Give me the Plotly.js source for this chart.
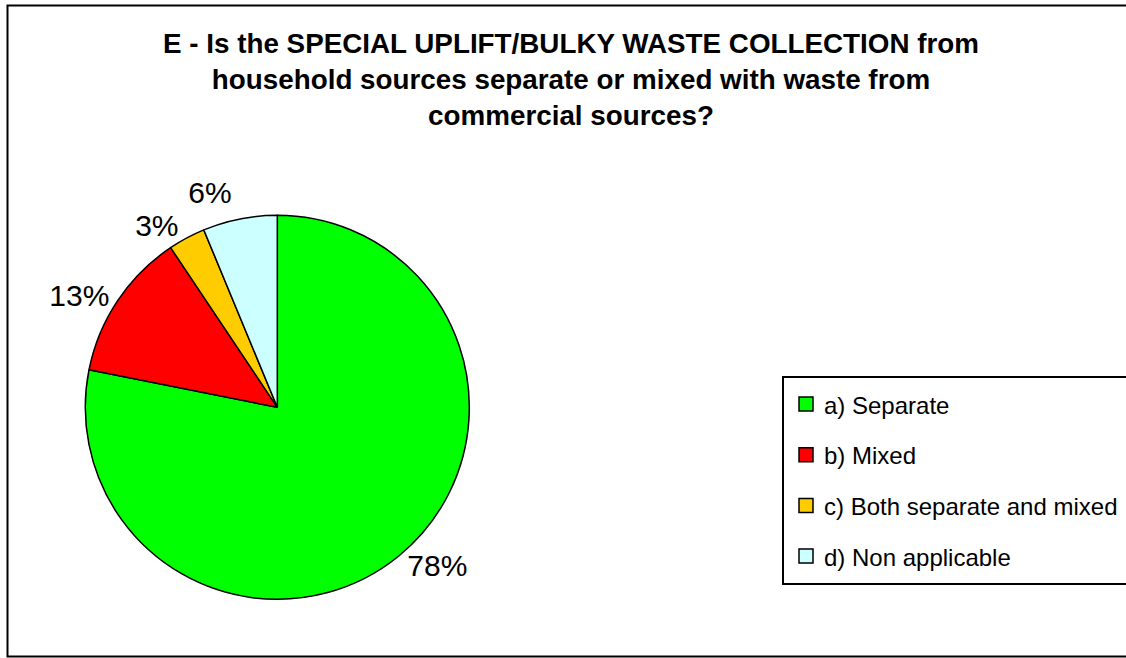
<!DOCTYPE html>
<html>
<head>
<meta charset="utf-8">
<script src="https://cdn.plot.ly/plotly-3.0.1.min.js"></script>
<style>
html,body{margin:0;padding:0;background:#fff;}
#chart{width:1126px;height:658px;}
path.textline{display:none !important;}
</style>
</head>
<body>
<div id="chart"></div>
<script>
const categories = ["a) Separate", "b) Mixed", "c) Both separate and mixed", "d) Non applicable"];
const counts = [25, 4, 1, 2];
const sliceColors = ["#00FF00", "#FF0000", "#FFCC00", "#CCFFFF"];
const titleLines = [
  "E - Is the SPECIAL UPLIFT/BULKY WASTE COLLECTION from",
  "household sources separate or mixed with waste from",
  "commercial sources?"
];

const W = 1126, H = 658;
const cx = 277.3, cy = 407.3, r = 192;
const font = "Arial, 'Liberation Sans', sans-serif";

const trace = {
  type: "pie",
  labels: categories,
  values: counts,
  sort: false,
  direction: "clockwise",
  rotation: 0,
  marker: { colors: sliceColors, line: { color: "#000000", width: 1.5 } },
  texttemplate: "%{percent:.0%}",
  textposition: "outside",
  outsidetextfont: { family: font, size: 30, color: "#000000" },
  hoverinfo: "label+percent",
  showlegend: false,
  domain: { x: [(cx - r) / W, (cx + r) / W], y: [1 - (cy + r) / H, 1 - (cy - r) / H] }
};

// Legend (box, swatches and labels) built from the category and colour arrays
const px = v => v / W, py = v => 1 - v / H;
const legTop = 377, legBottom = 584, legLeft = 783;
const itemFirst = 404, itemStep = 50.7, sw = 14, swX = 799, txtX = 822;

const shapes = [
  { type: "rect", xref: "paper", yref: "paper", x0: px(7.5), x1: 1.01, y0: py(656.5), y1: py(5.5),
    line: { color: "#000000", width: 2 }, fillcolor: "rgba(0,0,0,0)", layer: "below" },
  { type: "rect", xref: "paper", yref: "paper", x0: px(legLeft), x1: 1.01, y0: py(legBottom), y1: py(legTop),
    line: { color: "#000000", width: 2 }, fillcolor: "#ffffff", layer: "below" }
];
const annotations = [];
categories.forEach((c, i) => {
  const yc = itemFirst + i * itemStep;
  shapes.push({ type: "rect", xref: "paper", yref: "paper",
    x0: px(swX), x1: px(swX + sw), y0: py(yc + sw / 2), y1: py(yc - sw / 2),
    line: { color: "#000000", width: 1.5 }, fillcolor: sliceColors[i] });
  annotations.push({ xref: "paper", yref: "paper", x: px(txtX), y: py(yc + 1),
    xanchor: "left", yanchor: "middle", showarrow: false, text: c,
    font: { family: font, size: 24, color: "#000000" } });
});

const layout = {
  width: W, height: H,
  margin: { l: 0, r: 0, t: 0, b: 0 },
  paper_bgcolor: "#ffffff",
  plot_bgcolor: "#ffffff",
  font: { family: font, color: "#000000" },
  title: {
    text: titleLines.join("<br>"),
    font: { family: font, size: 27.8, color: "#000000", weight: "bold" },
    x: 571 / W, xanchor: "center", xref: "paper",
    y: 1 - 53 / H, yanchor: "top", yref: "paper"
  },
  showlegend: false,
  shapes: shapes,
  annotations: annotations
};

Plotly.newPlot("chart", [trace], layout, { displayModeBar: false, staticPlot: true });
</script>
</body>
</html>
